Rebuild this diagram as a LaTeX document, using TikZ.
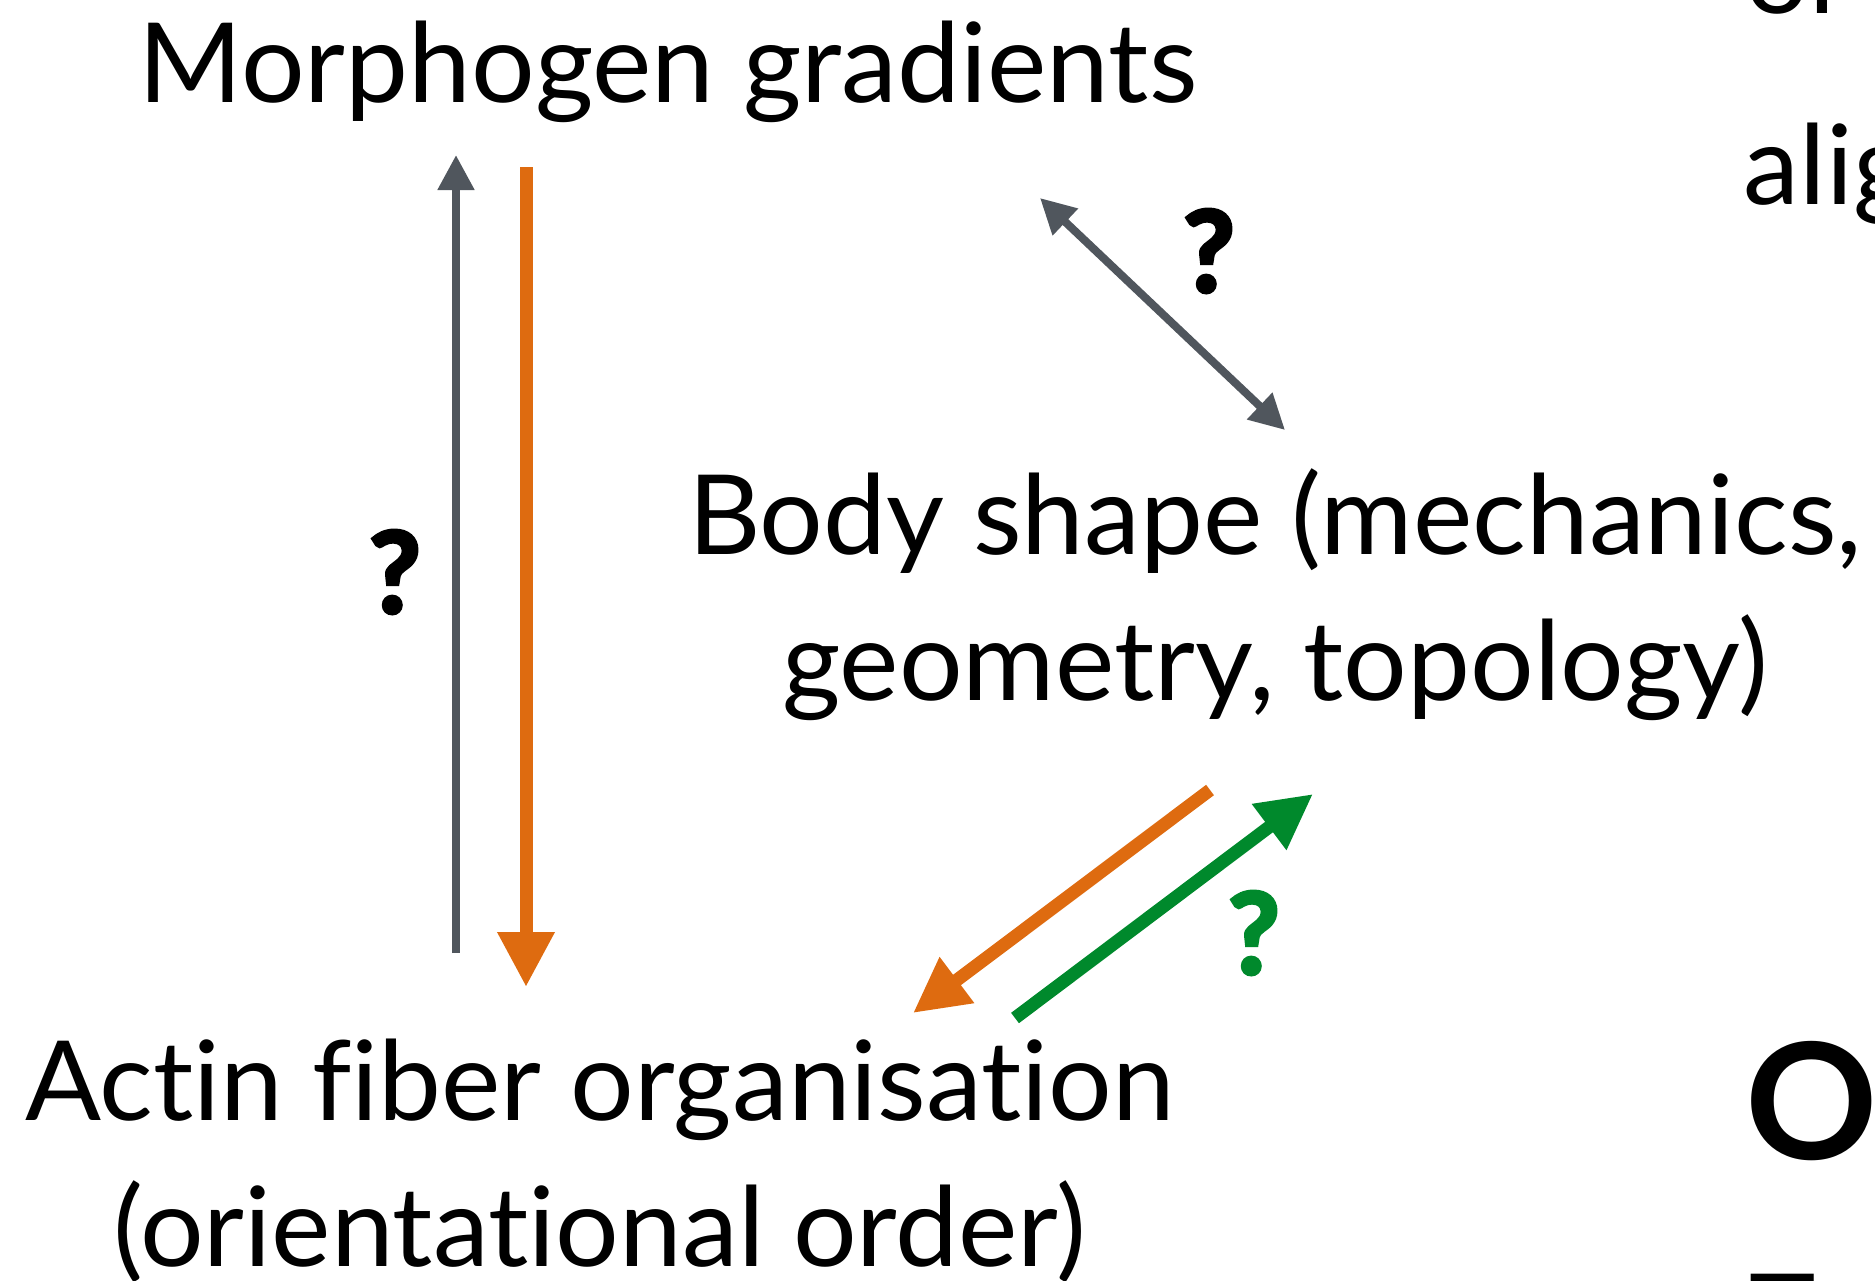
\documentclass[tikz,border=0pt]{standalone}
\usepackage{fontspec}
\setmainfont{Lato}[Ligatures={NoCommon,NoContextual},FakeStretch=1.015]
\newfontfamily\qfont{Lato}[FakeBold=3.5]
\usepackage{xcolor}
\definecolor{ArrowGray}{HTML}{50565D}
\definecolor{ArrowOrange}{HTML}{DE6B10}
\definecolor{ArrowGreen}{HTML}{00892C}
\usepackage{tikz}
\usetikzlibrary{arrows.meta,positioning}

\begin{document}
\begin{tikzpicture}[
  x=0.1mm,y=-0.1mm,
  txt/.style={inner sep=0pt,anchor=base,align=center,
    font=\fontsize{31.5}{41.4}\selectfont},
  qmark/.style={inner sep=0pt,font=\fontsize{32}{32}\selectfont\qfont\bfseries},
  thinarr/.style={line width=0.8mm,ArrowGray},
  thickarr/.style={line width=1.3mm,-{Triangle[length=5.5mm,width=5.4mm]}},
  graytip/.tip={Triangle[length=3.5mm,width=3.5mm]}
]
  \useasboundingbox (0,0) rectangle (1875,1280);
  \clip (0,0) rectangle (1875,1280);

  \node (morph) [txt] at (668,102) {Morphogen gradients};
  \node (body)  [txt] at (1275,700) {Body shape (mechanics,\\geometry, topology)};
  \node (actin) [txt] at (600,1266) {Actin fiber organisation\\(orientational order)};

  \node (orTop) [txt,anchor=base west] at (1745,13) {or};
  \node (alig)  [txt,anchor=base west] at (1743,204) {alig};
  \node (bigO)  [txt,anchor=base west,font=\fontsize{46}{46}\selectfont\bfseries] at (1745,1159) {O};
  \node (botT)  [txt,anchor=base west] at (1749,1353) {T};

  \node (qLeft)  [qmark] at (395,572) {?};
  \node (qUpper) [qmark] at (1209,251) {?};
  \node (qGreen) [qmark,text=ArrowGreen] at (1254,933) {?};

  \coordinate (upTail)   at (456,953);
  \coordinate (upTip)    at (456,155);
  \coordinate (downTail) at (526,167);
  \coordinate (downTip)  at (526,987);
  \coordinate (dblA)     at (1040,198);
  \coordinate (dblB)     at (1285,430);
  \coordinate (orTail)   at (1210,790);
  \coordinate (orTip)    at (913,1013);
  \coordinate (grTail)   at (1015,1018);
  \coordinate (grTip)    at (1313,794);

  \draw[thinarr,-graytip] (upTail) -- (upTip);
  \draw[thickarr,ArrowOrange] (downTail) -- (downTip);
  \draw[thinarr,graytip-graytip] (dblA) -- (dblB);
  \draw[thickarr,ArrowOrange] (orTail) -- (orTip);
  \draw[thickarr,ArrowGreen] (grTail) -- (grTip);
\end{tikzpicture}
\end{document}
